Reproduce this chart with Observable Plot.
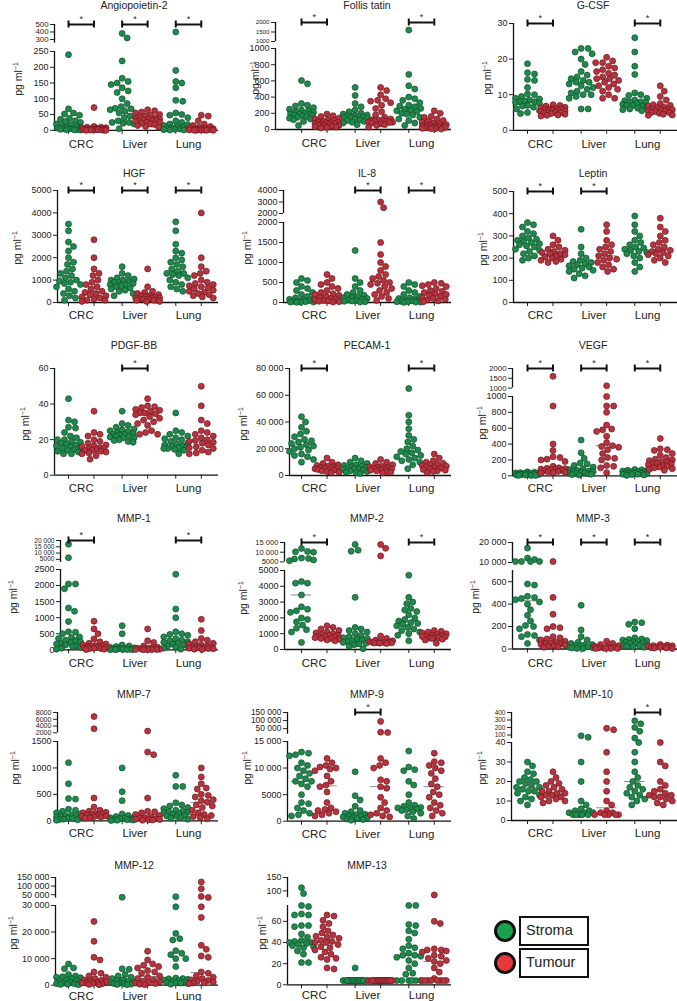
<!DOCTYPE html>
<html><head><meta charset="utf-8">
<script src="https://cdn.jsdelivr.net/npm/d3@7"></script>
<script src="https://cdn.jsdelivr.net/npm/@observablehq/plot@0.6"></script>
<style>
body{margin:0;background:#fff;font-family:"Liberation Sans",Arial,sans-serif;}
#root{position:relative;width:677px;height:1001px;overflow:hidden;background:#fff;}
.t{position:absolute;font-size:10.5px;color:#222;transform:translate(-50%,-50%);white-space:nowrap;}
.yl{position:absolute;font-size:10.5px;color:#222;transform:translate(-50%,-50%) rotate(-90deg);white-space:nowrap;}
.yl sup{font-size:7px;}
</style></head><body><div id="root"></div><script>
// ---------- DATA ----------
const titles = ["Angiopoietin-2","Follis tatin","G-CSF","HGF","IL-8","Leptin","PDGF-BB","PECAM-1","VEGF","MMP-1","MMP-2","MMP-3","MMP-7","MMP-9","MMP-10","MMP-12","MMP-13"];
const sites = ["CRC","Liver","Lung"];
const series = ["Stroma","Tumour"];
// each panel: [CRC stroma, CRC tumour, Liver stroma, Liver tumour, Lung stroma, Lung tumour]
const angiopoietin2 = [
 [240,68,55,52,48,38,35,30,28,25,20,18,15,12,10,8,7,5,5,4,3,2,2,1,1],
 [72,12,10,10,8,7,6,5,5,4,4,3,3,3,2,2,2,1,1,1,0,0,0],
 [380,320,220,165,155,150,145,135,125,120,100,85,75,70,68,65,60,55,45,40,30,25,25,22,20,5],
 [65,62,58,55,50,48,45,42,40,38,36,35,33,32,30,30,28,26,25,22,20,18,15,12,10],
 [400,190,155,150,135,95,92,55,50,48,40,30,25,20,18,15,12,10,8,6,5,4,3,2,1,1],
 [48,45,30,20,15,12,10,8,6,5,5,4,3,3,2,2,1,1,1,0,0,0,0]];
const follistatin = [
 [605,565,320,300,290,270,250,240,230,220,210,200,195,190,185,180,175,170,160,150,140,130,120,100,50],
 [190,170,160,140,130,120,110,100,95,90,85,80,75,70,65,60,55,50,45,40,35,30,25,20],
 [520,420,320,280,240,220,200,190,180,170,165,160,155,150,145,140,130,120,110,100,90,80,60],
 [520,480,430,380,360,350,330,300,260,220,180,150,130,120,115,110,105,100,95,90,85,80,70,60,50,30],
 [1600,680,540,500,400,380,360,330,300,290,280,260,250,240,230,220,200,190,180,150,130,110,80,50],
 [230,200,160,150,130,110,100,90,80,70,60,55,50,45,40,35,30,30,25,20,20,15,10,10,5]];
const gcsf = [
 [18.7,16.2,15.8,14.3,14,12,10.2,10,9.5,9,8.8,8.5,8.3,8,8,7.8,7.5,7,6.8,6.5,6,5.5,5,4.7],
 [7.2,7,6.8,6.5,6.3,6.2,6,6,5.8,5.7,5.5,5.5,5.3,5.2,5,5,4.8,4.7,4.5,4.3,4.2,4],
 [23,23,22,21.5,20,18.5,16.5,15.5,15,14.5,14,13.5,13.5,13,12.5,12,11.5,11,10.5,10,10,9.5,9,6,6],
 [20.5,19.5,19,19,18,17.5,17,16.5,16,15.5,15,14.5,14.5,14,13.5,13,12.5,12,11.5,11,10,9,9],
 [26,22,18,15.7,10.5,10,9.8,9,8.5,8.3,8,8,7.8,7.5,7.3,7,7,6.8,6.5,6.2,6,5.8,5.5],
 [12.5,11,9.5,8.5,7.5,7.2,7,6.8,6.5,6.3,6,6,5.8,5.7,5.5,5.5,5.3,5,5,4.8,4.5,4.3,4.2]];
const hgf = [
 [3500,3200,2700,2500,2300,2000,1800,1700,1500,1400,1300,1200,1100,1000,950,900,850,800,700,600,500,400,300,200,100],
 [2800,2000,1500,1300,1200,1000,900,800,700,600,500,450,400,350,300,250,200,150,100,100,50],
 [1600,1300,1200,1100,1050,1000,1000,950,900,900,850,800,800,750,700,650,600,550,500,400,300],
 [1500,700,500,450,400,350,300,300,250,250,200,200,200,150,150,150,100,100,100,50,50],
 [3600,3200,2600,2300,2200,2000,1900,1800,1700,1600,1500,1400,1300,1300,1250,1200,1100,1000,900,800,700,600,500],
 [4000,2000,1600,1400,1300,1200,1000,900,850,800,750,700,650,600,550,500,450,400,350,300,250,200]];
const il8 = [
 [600,550,500,400,350,300,250,200,150,120,100,80,60,50,40,30,20,10,10,5,5],
 [700,600,500,450,400,350,300,250,220,200,180,150,120,100,80,60,50,40,30,20,10],
 [1300,600,500,400,300,250,200,180,150,130,120,100,80,60,50,40,30,20,10],
 [3000,2500,1500,1200,1000,900,800,700,650,600,550,500,480,450,400,350,300,250,200,150,100,50],
 [500,450,400,300,250,200,150,120,100,80,60,50,40,30,20,20,10,10,5],
 [500,480,450,420,400,350,300,280,250,220,200,180,150,120,100,80,60,40,20]];
const leptin = [
 [360,350,340,320,310,300,290,285,280,275,270,265,260,255,250,240,235,230,220,210,200,190],
 [300,280,260,250,240,235,230,225,220,220,215,210,205,200,195,190,185,180],
 [330,250,220,200,190,185,180,175,170,165,160,155,150,145,140,130,120,110],
 [350,320,280,260,250,240,230,220,210,200,195,190,180,170,160,150,140],
 [390,350,320,300,280,270,260,250,245,240,235,230,225,220,210,200,180,160,140],
 [380,340,320,300,280,270,260,250,240,235,230,225,220,215,210,200,190,180]];
const pdgfbb = [
 [43,31,30,27,26.5,24,22,21,20,20,19,18.5,18,17.5,17,16.5,16,15.5,15,14.5,14,13.5,13,12,12],
 [36,24,23,22,20,19,18,17,16.5,16,15.5,15,15,14.5,14,14,13.5,13,12.5,12,11,9],
 [36,29,28,27,26,25.5,25,24.5,24,23.5,23,23,22.5,22,22,21.5,21,21,20,19.5,19,18.5],
 [43,39,38.5,38,37,36.5,36,35,35,34.5,34,33,32,31,30,29,28,25,24,23,23],
 [35,25,24,23,22,21,20.5,20,19,18,17.5,17,16.5,16,16,15.5,15,15,14.5,14,12],
 [50,39,31,29,25,24,23,22,21,20,19.5,19,18.5,18,17,16,15.5,15,14,13,12.5,12]];
const pecam1 = [
 [44000,40000,36000,33000,31000,29000,27000,26000,25000,24000,23000,22000,21000,20000,19000,18000,16000,15000,14000,12000,10000],
 [13000,10000,9000,8000,7500,7000,6500,6000,5500,5500,5000,5000,4500,4000,3500,3000,2500,2000],
 [13000,11000,10000,9000,8000,7500,7000,6500,6000,5500,5000,5000,4500,4000,3500,3000,2500,2000,1500],
 [12000,10000,9000,8000,7000,6500,6000,6000,5500,5000,5000,4500,4000,3500,3000,2500,2000],
 [65000,45000,40000,35000,30000,27000,25000,22000,20000,19000,18000,17000,16000,15000,14000,13000,12000,11000,10000,8000,5000],
 [16000,13000,11000,10000,9000,8500,8000,7500,7000,6500,6000,5500,5000,4500,4000,3500,3000,2000]];
const vegf = [
 [50,45,40,40,35,30,30,25,25,20,20,20,15,15,10,10,10,5,5,5],
 [1600,880,400,320,240,230,210,200,180,120,100,95,90,85,80,75,70,60,55,50,45,40,35],
 [450,290,220,160,150,130,110,90,80,70,60,55,50,45,40,35,30,25,20,15,10],
 [1120,1000,880,880,800,640,590,580,560,500,420,380,370,360,330,280,230,220,200,130,120,100,40],
 [80,75,70,65,60,55,50,45,40,35,30,30,25,20,20,15,10,5],
 [470,340,330,320,280,260,230,210,200,190,180,170,160,155,150,140,130,120,110,100,90,80,70]];
const mmp1 = [
 [17000,6300,2050,2050,1900,1300,1200,880,560,550,500,400,380,350,300,280,250,220,200,180,150,120,100,80,50,20],
 [890,650,500,340,250,200,180,150,130,120,100,90,80,70,60,50,40,30,20,10],
 [750,500,150,120,100,80,60,50,40,30,20,15,10,10,5,5,5],
 [650,280,230,120,80,60,50,40,30,20,15,10,10,5,5,5],
 [2350,1270,1000,560,500,480,450,400,350,300,280,250,230,200,180,150,120,100,80,50,20],
 [950,600,350,300,250,200,180,150,120,100,90,80,70,60,50,40,30,20,10]];
const mmp2 = [
 [11900,10400,10200,10000,7000,6800,6500,6000,5600,4300,4200,4200,3450,2700,2550,2450,2350,2000,1900,1750,1550,1350,1250,1100,450],
 [1500,1400,1300,1200,1100,1050,1000,950,900,900,850,800,800,750,700,700,650,600,550],
 [14000,11000,10500,3300,1400,1300,1200,1100,1000,900,800,750,700,650,600,550,500,450,400,350,300,200,50],
 [14000,12000,8100,850,700,600,550,500,480,460,450,440,430,420,410,400,380],
 [4700,3300,3000,2900,2600,2500,2400,2200,2000,1900,1800,1700,1650,1600,1500,1400,1300,1200,1100,1000,900,550],
 [1200,1150,1100,1050,1000,950,900,880,850,820,800,780,750,720,700,650,600,400]];
const mmp3 = [
 [17200,12200,11500,10500,10500,10500,10500,580,570,470,460,450,440,420,400,350,300,250,210,200,180,130,120,110,80,50],
 [10500,460,310,200,190,180,110,100,90,80,70,60,55,50,45,40,35,30,25,20,15],
 [390,170,110,80,60,50,40,35,30,25,20,15,10,10,5,5],
 [70,50,40,30,25,20,15,10,10,5,5,5,5],
 [240,235,220,180,100,90,85,80,75,70,65,60,55,50,45,40,35,30,25,20,15],
 [40,35,30,28,25,22,20,18,15,12,10,8,5]];
const mmp7 = [
 [1100,700,420,410,220,200,180,150,130,110,100,90,80,70,60,50,40,30,25,20,10],
 [6800,3200,430,260,200,180,160,150,140,130,120,110,100,90,85,80,70,60,50],
 [1000,550,380,130,100,80,70,60,50,40,30,25,20,15,10,5],
 [2500,1300,1250,430,180,170,150,120,100,80,60,50,40,30,25,20,15,10],
 [860,650,650,340,300,280,250,230,200,180,170,160,150,140,120,100,90,80,60,50,30],
 [1000,830,700,620,600,500,480,450,400,380,350,300,280,250,200,150,120,100,80,60,40]];
const mmp9 = [
 [13000,12800,12500,12300,11000,10500,10000,9500,9000,8500,8000,7500,7500,7000,6500,5000,3500,3300,2500,2000,1500,1200,1000],
 [11800,11000,10500,10200,10000,9800,9500,8500,7500,6800,6500,5500,3500,2500,2200,2000,1800,1500,1200,1000],
 [9300,4800,4000,2800,2000,1800,1500,1300,1200,1000,900,800,700,600,500,400,300,200],
 [95000,28000,26000,11800,11000,10500,10000,7800,7500,6500,6200,4500,3500,2500,2000,1500,1200,1000,800],
 [13200,10200,9700,9500,7500,6800,5000,3500,3000,2800,2600,2500,2400,2300,2200,2000,1800,1500,1000,500],
 [12800,11200,11000,10500,10000,9500,9000,8000,7000,6500,5500,5000,4500,3500,3000,2500,2000,1500,1000]];
const mmp10 = [
 [30,28,25,24,22,21,20,20,19,18,17,17,16,15,15,14,13,12,11,10,8],
 [25,22,20,19,18,17,16,15,15,14,14,13,13,12,12,11,10,10,9],
 [90,70,30,20,10,8,6,5,5,4,4,4,3,3,3,3,3],
 [190,170,35,25,20,15,10,8,5,4,4,3,3,3,3,3],
 [290,250,200,150,60,40,35,30,25,22,20,18,17,16,15,14,13,12,11,10,8],
 [40,30,28,20,18,16,15,14,13,13,12,12,11,10,9,8]];
const mmp12 = [
 [8000,6500,6200,4000,3500,3200,3000,2800,2500,2000,1800,1500,1200,1000,800,600,500,400,300,200],
 [24000,16500,10500,9500,5000,4500,3500,3000,2500,2000,1800,1500,1200,1000,900,800,700,500,300,200],
 [35000,6200,6000,4000,3500,3000,2500,2000,1800,1500,1200,1000,800,600,500,400,300,200],
 [12800,9500,8000,7500,7000,6500,5500,5000,4500,3500,3000,2500,2000,1500,1200,1000,800,600,400,200],
 [38000,29500,19500,17500,17000,13000,12000,11500,10000,10000,7000,2700,2500,2400,2200,2000,1800,1500,1200,1000,900,800,600,400],
 [124000,84000,40000,34000,29500,25500,15000,13500,11000,10500,5000,4500,3500,3000,2500,2000,1800,1500,1200,1000,800,600]];
const mmp13 = [
 [112,90,75,74,67,66,66,56,56,55,48,45,42,41,40,40,39,38,37,36,35,32,29,21,21],
 [66,65,61,58,55,51,49,47,46,45,44,42,41,40,40,38,36,35,33,31,29,26,25,24,16,15],
 [16,4,4,4,4,4,4,4,4,4,4,4,4,4,4,4,4,4,4,4,4,4],
 [4,4,4,4,4,4,4,4,4,4,4,4,4,4,4,4,4,4,4,4,4,4],
 [75,75,57,56,51,49,43,37,35,34,30,28,28,27,26,23,20,16,11,10,4,4,4,4,4,4],
 [85,60,58,34,33,33,32,31,28,27,25,23,22,20,16,12,6,4,4,4,4,4,4,4,4]];
const allValues = [angiopoietin2,follistatin,gcsf,hgf,il8,leptin,pdgfbb,pecam1,vegf,mmp1,mmp2,mmp3,mmp7,mmp9,mmp10,mmp12,mmp13];
// significance (CRC, Liver, Lung)
const significant = [[1,1,1],[1,0,1],[1,0,1],[1,1,1],[0,1,1],[1,1,0],[0,1,0],[1,0,1],[1,1,1],[1,0,1],[1,0,1],[1,1,1],[0,0,0],[0,1,0],[0,0,1],[0,0,0],[0,0,0]];
// axis value segments (broken axes) and tick values
const axisDomains = [
 [[0,250],[250,500]],[[0,1000],[1000,2000]],[[0,30]],
 [[0,5000]],[[0,2000],[2000,4000]],[[0,500]],
 [[0,60]],[[0,80000]],[[0,1000],[1000,2000]],
 [[0,2500],[2500,20000]],[[0,5000],[5000,15000]],[[0,700],[10000,20000]],
 [[0,1500],[2000,8000]],[[0,15000],[15000,150000]],[[0,40],[50,400]],
 [[0,30000],[30000,150000]],[[0,75],[75,150]]];
const axisTicks = [
 [[0,50,100,150,200,250],[300,400,500]],[[0,200,400,600,800,1000],[1000,1500,2000]],[[0,10,20,30]],
 [[0,1000,2000,3000,4000,5000]],[[0,500,1000,1500,2000],[2000,3000,4000]],[[0,100,200,300,400,500]],
 [[0,20,40,60]],[[0,20000,40000,60000,80000]],[[0,200,400,600,800,1000],[1000,1500,2000]],
 [[0,500,1000,1500,2000,2500],[5000,10000,15000,20000]],[[0,1000,2000,3000,4000,5000],[5000,10000,15000]],[[0,200,400,600],[10000,20000]],
 [[0,500,1000,1500],[2000,4000,6000,8000]],[[0,5000,10000,15000],[50000,100000,150000]],[[0,10,20,30,40],[100,200,300,400]],
 [[0,10000,20000,30000],[50000,100000,150000]],[[0,20,40,60],[100,150]]];

// ---------- LAYOUT ----------
const colLeft = [0, 233, 459];
const titleY = [5, 172.5, 345, 518, 694, 865];
const axisX = [54,42,54, 57,50,54, 54,56,53, 60,51,53, 57,54,52, 55,54];
const ylabX = [18,22,28, 17,14,24, 25,10,23, 13,10,16, 15,14,23, 13,29];
const labelDy = [14,13,13,14,13,11];
const segPx = [
 [[129.5,50.7],[42.7,24]],[[129.3,48.3],[40.7,21.7]],[[129.5,22.7]],
 [[302,190]],[[302,222],[213,190]],[[302,191]],
 [[475,368.3]],[[475,368]],[[475,395.7],[387.3,367.7]],
 [[649.3,569],[562,540]],[[649,570],[561.7,542.3]],[[648.3,569.8],[561.7,541.7]],
 [[820,740.7],[732,711.7]],[[820.7,741],[733.5,711.7]],[[820,742],[738,711.7]],
 [[985,905.3],[897.3,876.7]],[[984.3,905],[897.4,877.3]]];
const PXU = 53.64, C0 = 80.75, XR = 218, W = 219;
const HALF = 0.2377;
const BASE_FS = 9;
const groupX = [0,1,2].flatMap(p => [p - HALF, p + HALF]);
const dotFill = ["#1f8a4c", "#b8333d"];
const dotStroke = ["#0d4f2a", "#6a1820"];
const legendFill = ["#18a24c", "#e5393c"];
const fmt = v => v >= 10000 ? d3.format(",")(v).replace(/,/g, " ") : String(v);
const FONT = "'Liberation Sans', Arial, sans-serif";

function swarm(vals, toPx) {
  const pts = vals.map(v => ({v, py: toPx(v)})).sort((a, b) => a.py - b.py);
  const placed = [], D = 6.2, Wd = 12;
  const cands = [0]; for (let k = 1; k <= Wd; k++) cands.push(k, -k);
  for (const p of pts) {
    let best = 0, bestScore = -1;
    for (const c of cands) {
      let md = Infinity;
      for (const q of placed) { const dd = Math.hypot(q.off - c, q.py - p.py); if (dd < md) md = dd; }
      if (md >= D) { best = c; break; }
      if (md > bestScore) { bestScore = md; best = c; }
    }
    p.off = best; placed.push(p);
  }
  return pts;
}

const root = document.getElementById("root");
function addDiv(cls, html, x, y) {
  const d = document.createElement("div"); d.className = cls; d.innerHTML = html;
  d.style.left = x + "px"; d.style.top = y + "px"; root.appendChild(d);
}

titles.forEach((title, i) => {
  const col = i % 3, row = Math.floor(i / 3), left = colLeft[col];
  const doms = axisDomains[i], pxs = segPx[i], nSeg = doms.length;
  const segOf = v => (nSeg > 1 && v > doms[0][1]) ? 1 : 0;
  const toPx = v => { const s = segOf(v); return d3.scaleLinear(doms[s], pxs[s])(v); };
  const xmin = (axisX[i] - C0) / PXU, xmax = (XR - C0) / PXU;
  const pts = [];
  allValues[i].forEach((vals, g) => {
    swarm(vals, toPx).forEach(p => pts.push({x: groupX[g] + p.off / PXU, v: p.v, g, si: segOf(p.v)}));
  });
  const meds = allValues[i].map((vals, g) => { const m = d3.median(vals); return {x: groupX[g], m, si: segOf(m)}; });
  const sig = significant[i].map((s, k) => ({s, p: k})).filter(d => d.s);

  doms.forEach((dom, si) => {
    const [p0, p1] = pxs[si];
    const mt = 18, mb = 28, span = p0 - p1;
    const h = span + mt + mb;
    const isBottom = si === 0, isTop = si === nSeg - 1;
    const tk = axisTicks[i][si];
    const ys = d3.scaleLinear(dom, [p0, p1]);
    let fs = BASE_FS;
    if (!isBottom) {
      let minGap = Infinity;
      for (let k = 1; k < tk.length; k++) minGap = Math.min(minGap, Math.abs(ys(tk[k]) - ys(tk[k - 1])));
      const lowTop = d3.min(tk, t => -ys(t)) * -1; // pixel of lowest tick in this segment
      const prev = axisTicks[i][si - 1], ysPrev = d3.scaleLinear(doms[si - 1], pxs[si - 1]);
      const highPrev = d3.min(prev, t => ysPrev(t));
      const crossGap = highPrev - d3.max(tk, t => ys(t));
      fs = Math.max(6.2, Math.min(BASE_FS, minGap * 1.05, 2 * crossGap - BASE_FS));
    }
    const marks = [];
    marks.push(Plot.ruleX([xmin], {y1: dom[0], y2: dom[1], stroke: "#111", strokeWidth: 1.3}));
    if (isBottom) {
      marks.push(Plot.ruleY([dom[0]], {stroke: "#111", strokeWidth: 1.3}));
      marks.push(Plot.text(sites.map((s, k) => ({s, k})), {x: "k", y: () => dom[0], text: "s", dy: labelDy[row], fontSize: 11.5, fill: "#222"}));
    }
    marks.push(Plot.ruleY(meds.filter(m => m.si === si), {y: "m", x1: d => d.x - 0.19, x2: d => d.x + 0.19, stroke: "#8c8c8c", strokeWidth: 1}));
    [0, 1].forEach(s => {
      marks.push(Plot.dot(pts.filter(p => p.si === si && p.g % 2 === s), {x: "x", y: "v", r: 3, fill: dotFill[s], stroke: dotStroke[s], strokeWidth: 0.7}));
    });
    if (isTop && sig.length) {
      const capU = 3.5 * (dom[1] - dom[0]) / span;
      marks.push(Plot.ruleY(sig, {y: () => dom[1], x1: d => d.p - HALF, x2: d => d.p + HALF, stroke: "#111", strokeWidth: 2}));
      marks.push(Plot.ruleX(sig.flatMap(d => [d.p - HALF, d.p + HALF]), {y1: dom[1] - capU, y2: dom[1] + capU, stroke: "#111", strokeWidth: 2}));
      marks.push(Plot.text(sig, {x: "p", y: () => dom[1], text: () => "*", dy: -5.5, fontSize: 9, fill: "#222"}));
    }
    const plot = Plot.plot({
      width: W, height: h, marginLeft: axisX[i], marginRight: W - XR, marginTop: mt, marginBottom: mb,
      x: Object.assign({domain: [xmin, xmax], label: null}, isBottom ? {ticks: groupX, tickFormat: () => "", tickSize: 4} : {axis: null}),
      y: {domain: dom, range: [mt + span, mt], ticks: tk, tickFormat: fmt, tickSize: 4, tickPadding: 2, label: null},
      style: {background: "transparent", overflow: "visible", fontFamily: FONT, fontSize: fs + "px", color: "#222"},
      marks
    });
    plot.style.position = "absolute";
    plot.style.left = left + "px";
    plot.style.top = (p1 - mt) + "px";
    root.appendChild(plot);
  });
  addDiv("t", title, left + 134, titleY[row]);
  addDiv("yl", "pg ml<sup>−1</sup>", left + ylabX[i], (pxs[0][0] + pxs[nSeg - 1][1]) / 2 + 2);
});

// legend
series.forEach((s, k) => {
  const cy = [931, 963][k];
  const c = document.createElement("div");
  Object.assign(c.style, {position: "absolute", left: (505 - 11) + "px", top: (cy - 11) + "px", width: "22px", height: "22px",
    borderRadius: "50%", background: legendFill[k], border: "3px solid #111", boxSizing: "border-box"});
  root.appendChild(c);
  const b = document.createElement("div");
  Object.assign(b.style, {position: "absolute", left: "519px", top: (cy - 15) + "px", width: "70px", height: "30px",
    border: "2.5px solid #111", boxSizing: "border-box", fontSize: "14.5px", color: "#222", lineHeight: "25px", paddingLeft: "5px", fontFamily: FONT});
  b.textContent = s;
  root.appendChild(b);
});
</script></body></html>
